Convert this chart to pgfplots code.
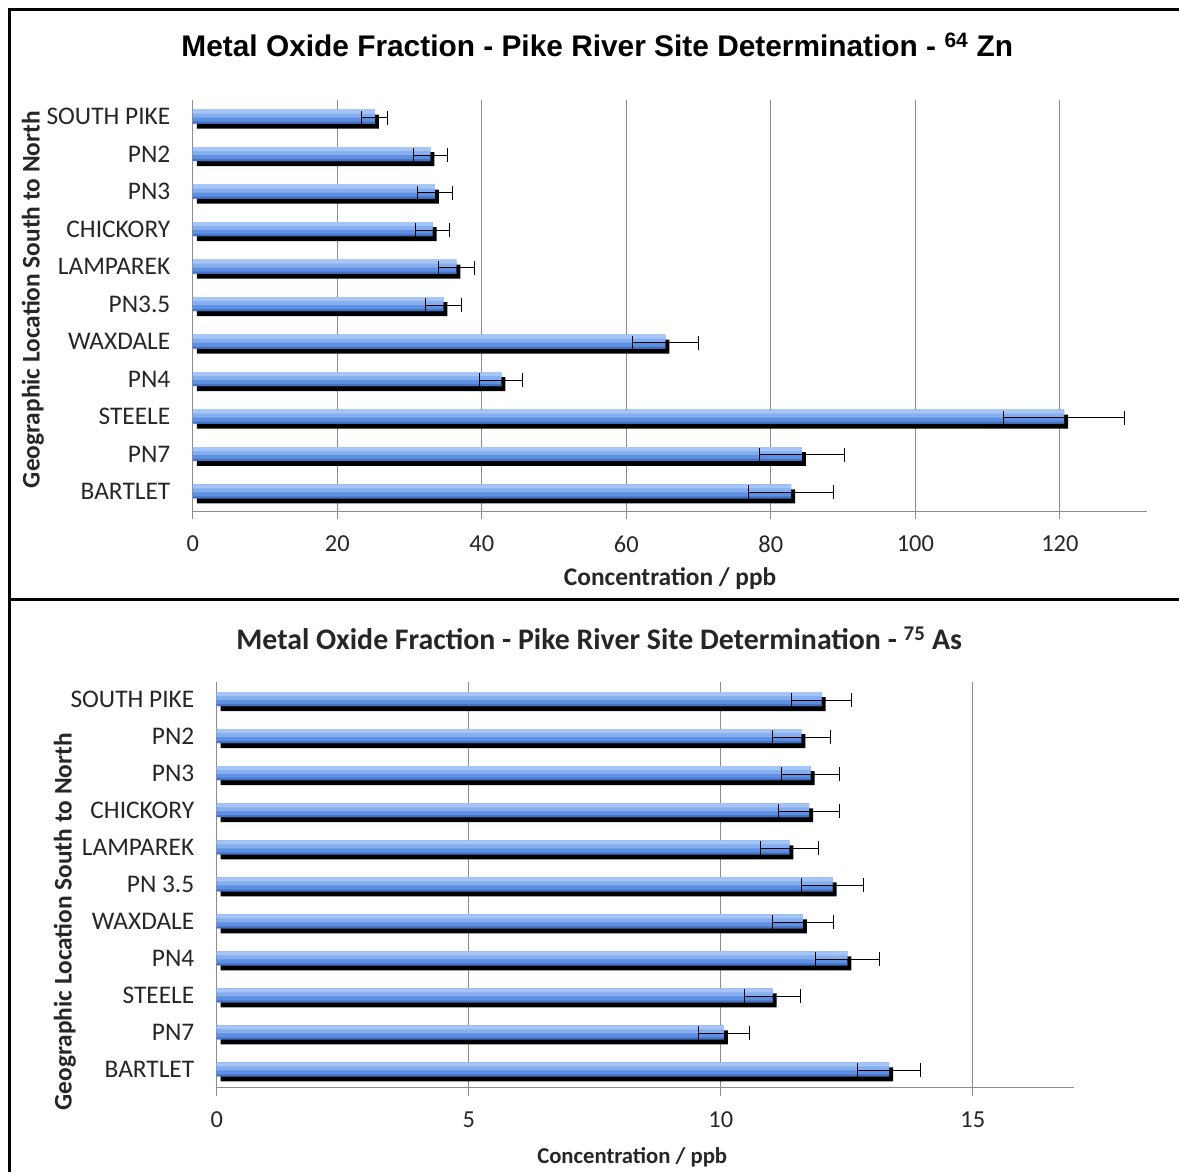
\documentclass[border=0pt]{standalone}
\usepackage{fontspec}
\setmainfont{Carlito}
\newfontfamily\arialfont{Liberation Sans}
\usepackage{pgfplots}
\usepackage{pgfplotstable}
\pgfplotsset{compat=1.18}

\definecolor{barmid}{HTML}{5D8FE2}
\definecolor{barlt}{HTML}{86AEEE}
\definecolor{barxlt}{HTML}{A5C5F7}
\definecolor{bardk}{HTML}{4672C4}
\definecolor{gridc}{HTML}{8C8C8C}
\definecolor{txt}{HTML}{262626}

% y: 0 = BARTLET (bottom) ... 10 = SOUTH PIKE (top)
\pgfplotstableread{
y  v      e
10 25.2   1.8
9  32.9   2.4
8  33.5   2.4
7  33.2   2.4
6  36.5   2.5
5  34.7   2.5
4  65.4   4.6
3  42.7   3.0
2  120.6  8.4
1  84.3   5.9
0  82.8   5.9
}\zinc

\pgfplotstableread{
y  v      e
10 12.00  0.60
9  11.60  0.58
8  11.78  0.58
7  11.75  0.60
6  11.36  0.57
5  12.22  0.62
4  11.63  0.60
3  12.51  0.64
2  11.03  0.55
1  10.06  0.50
0  13.34  0.62
}\arsenic

\pgfplotsset{
  pikestyle/.style={
    scale only axis,
    axis lines*=left,
    axis line style={draw=gridc, line width=1bp},
    xmajorgrids,
    grid style={draw=gridc, line width=1bp},
    ytick={0,...,10},
    ytick style={draw=none},
    xtick style={draw=gridc, line width=1bp},
    tick align=outside,
    major tick length=8bp,
    yticklabel style={font=\fontsize{25.5}{25.5}\selectfont, text=txt, xshift=-11bp},
    xticklabel style={font=\fontsize{24.5}{24.5}\selectfont, text=txt, yshift=-13bp},
    /pgf/number format/assume math mode=true,
    clip=false,
  },
  shadowbar/.style={xbar, bar width=14bp, fill=black, draw=none, xshift=4bp, yshift=-5bp, forget plot},
  barlayer/.style 2 args={xbar, bar width=#1, draw=none, yshift=#2, forget plot},
  errs/.style={draw=none, mark=none, forget plot, yshift=-1bp,
    error bars/.cd, x dir=both, x explicit,
    error bar style={draw=black, line width=1bp},
    error mark options={rotate=90, mark size=7bp, draw=black, line width=1bp}},
}

\begin{document}
\begin{tikzpicture}[x=1bp, y=1bp]
\path (0,0) rectangle (1180,1173);

% top panel
\begin{axis}[pikestyle,
  at={(193bp,661bp)}, anchor=south west,
  width=955bp, height=412bp,
  xmin=0, xmax=132, ymin=-0.53, ymax=10.45,
  xtick={0,20,...,120},
  yticklabels={BARTLET,PN7,STEELE,PN4,WAXDALE,PN3.5,LAMPAREK,CHICKORY,PN3,PN2,SOUTH PIKE},
]
\addplot[shadowbar] table[x=v, y=y] {\zinc};
\addplot[barlayer={14bp}{0bp}, fill=barmid] table[x=v, y=y] {\zinc};
\addplot[barlayer={8bp}{3bp}, fill=barlt] table[x=v, y=y] {\zinc};
\addplot[barlayer={4bp}{5bp}, fill=barxlt] table[x=v, y=y] {\zinc};
\addplot[barlayer={2bp}{-6bp}, fill=bardk] table[x=v, y=y] {\zinc};
\addplot[errs] table[x=v, y=y, x error=e] {\zinc};
\end{axis}

% bottom panel
\begin{axis}[pikestyle,
  at={(217bp,84bp)}, anchor=south west,
  width=858bp, height=406bp,
  xmin=0, xmax=17, ymin=-0.49, ymax=10.46,
  xtick={0,5,10,15},
  yticklabels={BARTLET,PN7,STEELE,PN4,WAXDALE,PN 3.5,LAMPAREK,CHICKORY,PN3,PN2,SOUTH PIKE},
]
\addplot[shadowbar] table[x=v, y=y] {\arsenic};
\addplot[barlayer={14bp}{0bp}, fill=barmid] table[x=v, y=y] {\arsenic};
\addplot[barlayer={8bp}{3bp}, fill=barlt] table[x=v, y=y] {\arsenic};
\addplot[barlayer={4bp}{5bp}, fill=barxlt] table[x=v, y=y] {\arsenic};
\addplot[barlayer={2bp}{-6bp}, fill=bardk] table[x=v, y=y] {\arsenic};
\addplot[errs] table[x=v, y=y, x error=e] {\arsenic};
\end{axis}

% titles and axis labels
\node[font=\arialfont\bfseries\fontsize{30}{30}\selectfont] at (598,1128)
  {Metal Oxide Fraction - Pike River Site Determination - \textsuperscript{64} Zn};
\node[font=\bfseries\fontsize{25.5}{25.5}\selectfont, text=txt] at (671,594) {Concentration / ppb};
\node[font=\bfseries\fontsize{25.5}{25.5}\selectfont, text=txt, rotate=90] at (33,873)
  {Geographic Location South to North};

\node[font=\bfseries\fontsize{30}{30}\selectfont, text=txt] at (600,534)
  {Metal Oxide Fraction - Pike River Site Determination - \textsuperscript{75} As};
\node[font=\bfseries\fontsize{22.8}{22.8}\selectfont, text=txt] at (633,14) {Concentration / ppb};
\node[font=\bfseries\fontsize{25.5}{25.5}\selectfont, text=txt, rotate=90] at (65,250)
  {Geographic Location South to North};

% frame lines
\draw[line width=3bp] (8,1163) -- (1180,1163);
\draw[line width=3bp] (9.5,1163) -- (9.5,0);
\draw[line width=3bp] (8,573) -- (1180,573);
\end{tikzpicture}
\end{document}
